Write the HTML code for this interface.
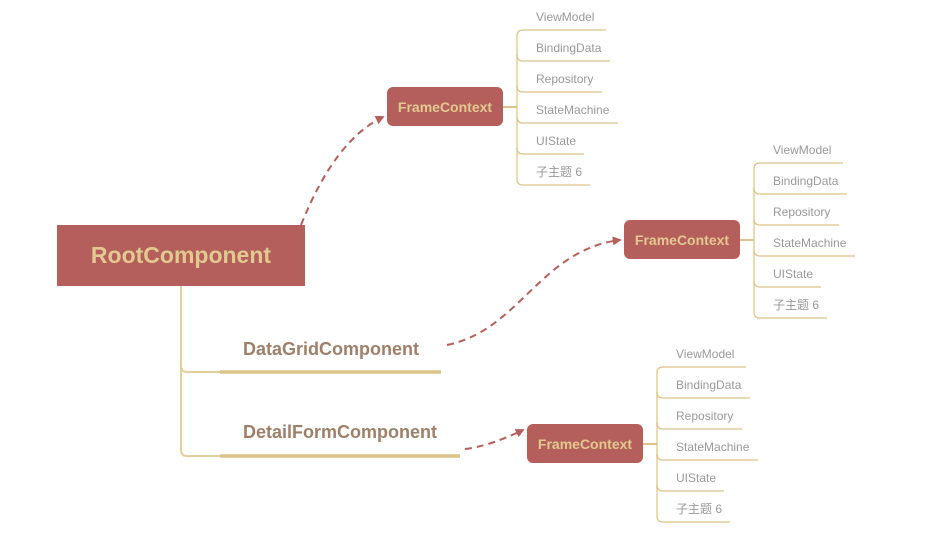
<!DOCTYPE html>
<html><head><meta charset="utf-8"><style>
html,body{margin:0;padding:0;background:#fff;width:928px;height:534px;overflow:hidden}
svg text{font-family:"Liberation Sans","Noto Sans CJK SC",sans-serif}
</style></head><body>
<svg width="928" height="534" viewBox="0 0 928 534" xmlns="http://www.w3.org/2000/svg">
<defs>
<marker id="ah" viewBox="0 0 10 10" refX="8" refY="5" markerWidth="9" markerHeight="9" markerUnits="userSpaceOnUse" orient="auto"><path d="M0,0 L10,5 L0,10 z" fill="#b55f5c"/></marker>
<g id="sub">
  <path d="M517,36 L517,179" stroke="#e3cf9c" stroke-width="1.5" fill="none"/>
  <g stroke="#dcc489" stroke-width="1.3" fill="none">
    <path d="M517,36 Q517,30 523,30 L606,30"/>
    <path d="M517,55 Q517,61 523,61 L610,61"/>
    <path d="M517,86 Q517,92 523,92 L602,92"/>
    <path d="M517,117 Q517,123 523,123 L618,123"/>
    <path d="M517,148 Q517,154 523,154 L584,154"/>
    <path d="M517,179 Q517,185 523,185 L590,185"/>
  </g>
  <g font-size="12" fill="#999999">
    <text x="536" y="21">ViewModel</text>
    <text x="536" y="52">BindingData</text>
    <text x="536" y="83">Repository</text>
    <text x="536" y="114">StateMachine</text>
    <text x="536" y="145">UIState</text>
    <text x="536" y="176">子主题 6</text>
  </g>
  <path d="M503,107 L517,107" stroke="#dcc489" stroke-width="2"/>
  <rect x="387" y="87" width="116" height="39" rx="6" fill="#b55f5c"/>
  <text x="445" y="112" font-size="14" font-weight="bold" fill="#e2c98f" text-anchor="middle">FrameContext</text>
</g>
</defs>
<use href="#sub"/>
<use href="#sub" transform="translate(237,133)"/>
<use href="#sub" transform="translate(140,337)"/>

<path d="M181,286 L181,366 Q181,372 187,372 L220,372" stroke="#e3cf9c" stroke-width="2" fill="none"/>
<path d="M181,366 L181,450 Q181,456 187,456 L220,456" stroke="#e3cf9c" stroke-width="2" fill="none"/>
<path d="M220,372 L441,372" stroke="#dcc489" stroke-width="3.5"/>
<path d="M220,456 L460,456" stroke="#dcc489" stroke-width="3.5"/>
<text x="243" y="355" font-size="18" font-weight="bold" fill="#9e7f6a">DataGridComponent</text>
<text x="243" y="438" font-size="18" font-weight="bold" fill="#9e7f6a">DetailFormComponent</text>

<rect x="57" y="225" width="248" height="61" fill="#b55f5c"/>
<text x="181" y="263" font-size="23" font-weight="bold" fill="#e2c98f" text-anchor="middle">RootComponent</text>

<g stroke="#b55f5c" stroke-width="2" fill="none" stroke-dasharray="7,5" marker-end="url(#ah)">
<path d="M301,225 Q335,140 383,117"/>
<path d="M447,345 C520,330 540,250 620,240"/>
<path d="M465,449 Q490,446 523,430"/>
</g>
</svg>
</body></html>
